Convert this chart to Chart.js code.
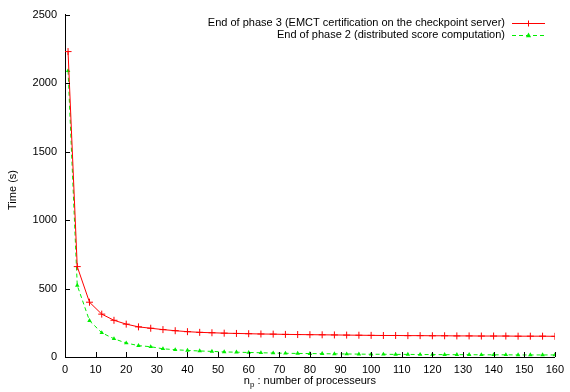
<!DOCTYPE html>
<html lang="en">
<head>
    <meta charset="UTF-8">
    <title>Time vs number of processors</title>
    <script src="https://cdn.jsdelivr.net/npm/chart.js"></script>
    <style>
        body { margin: 0; background: #fff; }
        #wrap { width: 570px; height: 392px; position: relative; }
    </style>
</head>
<body>
    <div id="wrap"><canvas id="chart"></canvas></div>

    <script>
        // number of processors
        const procs = [1, 4, 8, 12, 16, 20, 24, 28, 32, 36, 40, 44, 48, 52, 56, 60, 64, 68, 72, 76,
            80, 84, 88, 92, 96, 100, 104, 108, 112, 116, 120, 124, 128, 132, 136, 140, 144, 148, 152, 156, 160];

        // end of phase 3 (seconds)
        const phase3 = [2230, 660, 400, 313, 268, 240, 220, 210, 200, 192, 185, 180, 177, 174, 172, 170, 168, 167, 165, 164,
            163, 162, 161, 160, 159, 158, 157, 157, 156, 156, 155, 155, 154, 154, 153, 153, 153, 152, 152, 152, 151];

        // end of phase 2 (seconds)
        const phase2 = [2090, 523, 265, 177, 133, 102, 83, 75, 60, 53, 48, 44, 41, 37, 35, 33, 31, 29, 27, 26,
            25, 24, 23, 22, 21, 20, 20, 19, 19, 18, 18, 17, 17, 17, 16, 16, 16, 15, 15, 15, 15];

        const seriesLabels = [
            'End of phase 3 (EMCT certification on the checkpoint server)',
            'End of phase 2 (distributed score computation)'
        ];

        const font = '11px "Liberation Sans", Arial, sans-serif';

        function toPoints(xs, ys) {
            return xs.map((x, i) => ({ x: x, y: ys[i] }));
        }

        // inward ticks, legend and axis titles, gnuplot style
        const decorations = {
            id: 'decorations',
            afterDraw(chart) {
                const ctx = chart.ctx;
                const area = chart.chartArea;
                const xs = chart.scales.x;
                const ys = chart.scales.y;
                ctx.save();
                ctx.strokeStyle = '#000';
                ctx.lineWidth = 1;
                ctx.beginPath();
                xs.ticks.forEach(t => {
                    const px = Math.round(xs.getPixelForValue(t.value)) + 0.5;
                    ctx.moveTo(px, area.bottom);
                    ctx.lineTo(px, area.bottom - 5);
                });
                ys.ticks.forEach(t => {
                    const py = Math.round(ys.getPixelForValue(t.value)) + 0.5;
                    ctx.moveTo(area.left, py);
                    ctx.lineTo(area.left + 5, py);
                });
                ctx.stroke();

                // legend
                ctx.font = font;
                ctx.fillStyle = '#000';
                ctx.textAlign = 'right';
                ctx.textBaseline = 'middle';
                const rows = [23, 35];
                chart.data.datasets.forEach((ds, i) => {
                    const y = rows[i] + 0.5;
                    ctx.fillText(ds.label, 505, rows[i]);
                    ctx.strokeStyle = ds.borderColor;
                    ctx.setLineDash(ds.borderDash || []);
                    ctx.beginPath();
                    ctx.moveTo(512, y);
                    ctx.lineTo(545, y);
                    ctx.stroke();
                    ctx.setLineDash([]);
                    const mx = 528.5;
                    if (ds.pointStyle === 'cross') {
                        ctx.beginPath();
                        ctx.moveTo(mx - 3, y); ctx.lineTo(mx + 3, y);
                        ctx.moveTo(mx, y - 3); ctx.lineTo(mx, y + 3);
                        ctx.stroke();
                    } else {
                        ctx.fillStyle = ds.pointBackgroundColor;
                        ctx.beginPath();
                        ctx.moveTo(mx, y - 3);
                        ctx.lineTo(mx + 2.6, y + 1.8);
                        ctx.lineTo(mx - 2.6, y + 1.8);
                        ctx.closePath();
                        ctx.fill();
                        ctx.fillStyle = '#000';
                    }
                });

                // y title
                ctx.save();
                ctx.translate(13, 190);
                ctx.rotate(-Math.PI / 2);
                ctx.textAlign = 'center';
                ctx.fillStyle = '#000';
                ctx.fillText('Time (s)', 0, 0);
                ctx.restore();

                // x title with subscript
                const main = ' : number of processeurs';
                ctx.textAlign = 'left';
                const wN = ctx.measureText('n').width;
                ctx.font = '8px "Liberation Sans", Arial, sans-serif';
                const wP = ctx.measureText('p').width;
                ctx.font = font;
                const wMain = ctx.measureText(main).width;
                let x0 = (area.left + area.right) / 2 - (wN + wP + wMain) / 2;
                const yT = 381;
                ctx.fillText('n', x0, yT);
                ctx.font = '8px "Liberation Sans", Arial, sans-serif';
                ctx.fillText('p', x0 + wN, yT + 4);
                ctx.font = font;
                ctx.fillText(main, x0 + wN + wP, yT);
                ctx.restore();
            }
        };

        const ctx = document.getElementById('chart').getContext('2d');
        new Chart(ctx, {
            type: 'line',
            data: {
                datasets: [{
                    label: seriesLabels[0],
                    data: toPoints(procs, phase3),
                    borderColor: '#ff0000',
                    backgroundColor: '#ff0000',
                    borderWidth: 1,
                    pointStyle: 'cross',
                    pointRadius: 3.5,
                    pointBorderColor: '#ff0000',
                    pointBorderWidth: 1,
                    tension: 0
                }, {
                    label: seriesLabels[1],
                    data: toPoints(procs, phase2),
                    borderColor: '#00ee00',
                    backgroundColor: '#00ee00',
                    borderWidth: 1,
                    borderDash: [4, 3],
                    pointStyle: 'triangle',
                    pointRadius: 2.6,
                    pointBackgroundColor: '#00ee00',
                    pointBorderColor: '#00ee00',
                    pointBorderWidth: 0,
                    tension: 0
                }]
            },
            options: {
                responsive: true,
                maintainAspectRatio: false,
                animation: false,
                layout: { padding: { left: 0, right: 11, top: 13, bottom: 0 } },
                plugins: {
                    legend: { display: false },
                    tooltip: { enabled: false }
                },
                scales: {
                    x: {
                        type: 'linear',
                        min: 0,
                        max: 160,
                        afterFit(scale) { scale.height = 35; },
                        ticks: { stepSize: 10, color: '#000', font: { family: '"Liberation Sans", Arial', size: 11 }, padding: 6, maxRotation: 0 },
                        grid: { display: false, drawTicks: false },
                        border: { display: true, color: '#000', width: 1 }
                    },
                    y: {
                        min: 0,
                        max: 2500,
                        afterFit(scale) { scale.width = 65; },
                        ticks: {
                            stepSize: 500, color: '#000', font: { family: '"Liberation Sans", Arial', size: 11 }, padding: 8,
                            callback: v => String(v)
                        },
                        grid: { display: false, drawTicks: false },
                        border: { display: true, color: '#000', width: 1 }
                    }
                }
            },
            plugins: [decorations]
        });
    </script>
</body>
</html>
